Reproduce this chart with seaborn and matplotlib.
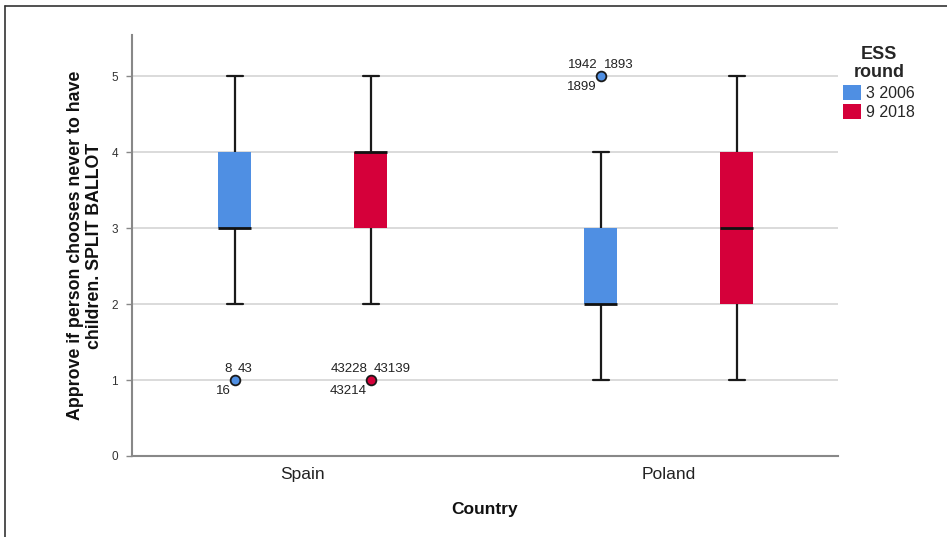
import numpy as np
import pandas as pd
import matplotlib
matplotlib.use("Agg")
import matplotlib.pyplot as plt
from matplotlib.lines import Line2D
from matplotlib.patches import Patch
import seaborn as sns

# ---- data (response distributions) ----
countries = ["Spain", "Poland"]
rounds = ["3 2006", "9 2018"]
spain_2006 = [1, 2, 3, 3, 3, 3, 4, 4, 5]
spain_2018 = [1, 2, 3, 3, 4, 4, 4, 4, 5]
poland_2006 = [1, 2, 2, 2, 2, 3, 3, 4, 5]
poland_2018 = [1, 2, 2, 3, 3, 3, 4, 4, 5]
y_ticks = [0, 1, 2, 3, 4, 5]

# outlier case labels: (country, round, value, upper-left, upper-right, lower-left)
outlier_country = ["Spain", "Spain", "Poland"]
outlier_round = ["3 2006", "9 2018", "3 2006"]
outlier_value = [1, 1, 5]
label_upper_left = ["8", "43228", "1942"]
label_upper_right = ["43", "43139", "1893"]
label_lower_left = ["16", "43214", "1899"]

colors = ["#4F8FE3", "#D5003A"]

rows = []
for c, r, vals in [("Spain", "3 2006", spain_2006), ("Spain", "9 2018", spain_2018),
                   ("Poland", "3 2006", poland_2006), ("Poland", "9 2018", poland_2018)]:
    for v in vals:
        rows.append({"Country": c, "ESS round": r, "value": v})
df = pd.DataFrame(rows)

sns.set_theme(style="white")
plt.rcParams["font.family"] = ["Liberation Sans", "DejaVu Sans"]

fig = plt.figure(figsize=(9.47, 5.37), dpi=100)
ax = fig.add_axes([132/947, 1-456/537, (838-132)/947, (456-35)/537])

W = 0.743
sns.boxplot(data=df, x="Country", y="value", hue="ESS round", order=countries,
            hue_order=rounds, palette=colors, width=W, gap=0.757, dodge=True,
            saturation=1, linewidth=1.6, linecolor="#1a1a1a", whis=1.5,
            flierprops=dict(marker="o", markersize=7, markerfacecolor="none",
                            markeredgecolor="none"),
            boxprops=dict(edgecolor="none"),
            medianprops=dict(color="#111111", linewidth=2),
            whiskerprops=dict(color="#1a1a1a", linewidth=1.6),
            capprops=dict(color="#1a1a1a", linewidth=1.6),
            legend=False, ax=ax)

# outlier markers and case labels
offsets = {rounds[0]: -W/4, rounds[1]: W/4}
for c, r, v, ul, ur, ll in zip(outlier_country, outlier_round, outlier_value,
                               label_upper_left, label_upper_right, label_lower_left):
    x = countries.index(c) + offsets[r]
    col = colors[rounds.index(r)]
    ax.plot([x], [v], marker="o", markersize=7, markerfacecolor=col,
            markeredgecolor="#1a1a1a", markeredgewidth=1.3, zorder=5, linestyle="none")
    ax.annotate(ul, (x, v), xytext=(-3, 5), textcoords="offset pixels",
                ha="right", va="bottom", fontsize=9.5, color="#222222")
    ax.annotate(ur, (x, v), xytext=(3, 5), textcoords="offset pixels",
                ha="left", va="bottom", fontsize=9.5, color="#222222")
    ax.annotate(ll, (x, v), xytext=(-4, -5), textcoords="offset pixels",
                ha="right", va="top", fontsize=9.5, color="#222222")

ax.set_xlim(-0.467, 1.462)
ax.set_ylim(0, 5.54)
ax.set_yticks(y_ticks)
ax.set_yticklabels([str(t) for t in y_ticks], fontsize=8.5, color="#333333")
ax.tick_params(axis="y", length=4, width=1, color="#888888", left=True, pad=6)
ax.tick_params(axis="x", length=0, labelsize=12.5, pad=8, labelcolor="#222222")
for yv in y_ticks[1:]:
    ax.axhline(yv, color="#d4d4d4", linewidth=1.2, zorder=0)
for s in ["top", "right"]:
    ax.spines[s].set_visible(False)
for s in ["left", "bottom"]:
    ax.spines[s].set_color("#888888")
    ax.spines[s].set_linewidth(1.5)

ax.set_xlabel("Country", fontsize=12.5, fontweight="bold", labelpad=14, color="#111111")
ax.set_ylabel("Approve if person chooses never to have\nchildren. SPLIT BALLOT",
              fontsize=12.8, fontweight="bold", color="#111111", linespacing=1.15)
ax.yaxis.set_label_coords(-29/706, 0.5)

handles = [Patch(facecolor=colors[0], edgecolor="none"),
           Patch(facecolor=colors[1], edgecolor="none")]
leg = fig.legend(handles, rounds, title="ESS\nround", loc="upper left",
                 bbox_to_anchor=(832/947, 1-35/537), frameon=False, fontsize=11.5,
                 title_fontproperties={"weight": "bold", "size": 13},
                 handlelength=1.1, handleheight=1.1, handletextpad=0.3,
                 labelspacing=0.2, borderpad=0.2)
leg.get_title().set_linespacing(1.1)
leg.get_title().set_multialignment("center")
leg._legend_box.align = "center"

# screenshot frame lines (top and left)
fig.add_artist(Line2D([5/947, 1], [1-6/537, 1-6/537], transform=fig.transFigure,
                      color="#333333", linewidth=1.2))
fig.add_artist(Line2D([5/947, 5/947], [0, 1-6/537], transform=fig.transFigure,
                      color="#333333", linewidth=1.2))

fig.savefig("out.png", dpi=100)
